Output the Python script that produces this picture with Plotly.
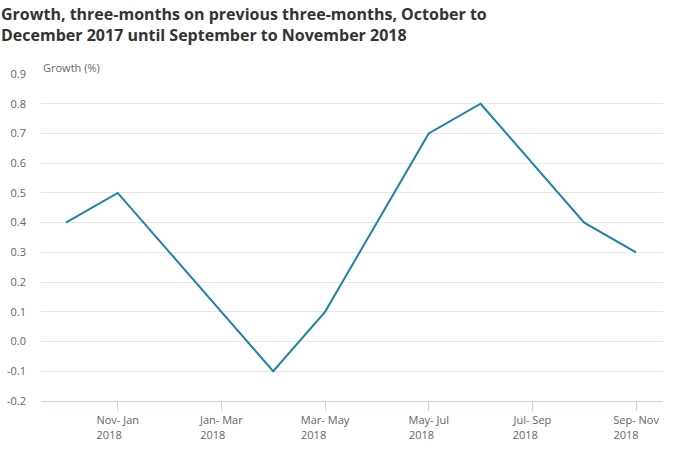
import plotly.graph_objects as go

categories = ["Oct- Dec 2017", "Nov- Jan 2018", "Dec- Feb 2018", "Jan- Mar 2018",
              "Feb- Apr 2018", "Mar- May 2018", "Apr- Jun 2018", "May- Jul 2018",
              "Jun- Aug 2018", "Jul- Sep 2018", "Aug- Oct 2018", "Sep- Nov 2018"]
growth = [0.4, 0.5, 0.3, 0.1, -0.1, 0.1, 0.4, 0.7, 0.8, 0.6, 0.4, 0.3]

tick_cats = ["Nov- Jan 2018", "Jan- Mar 2018", "Mar- May 2018",
             "May- Jul 2018", "Jul- Sep 2018", "Sep- Nov 2018"]
tick_first = ["Nov- Jan", "Jan- Mar", "Mar- May", "May- Jul", "Jul- Sep", "Sep- Nov"]
tick_year = ["2018"] * 6
pad = [6, 6, 8, 5, 5, 7]

y_tickvals = [-0.2, -0.1, 0.0, 0.1, 0.2, 0.3, 0.4, 0.5, 0.6, 0.7, 0.8, 0.9]
y_ticktext = ["-0.2", "-0.1", "0.0", "0.1", "0.2", "0.3", "0.4", "0.5", "0.6", "0.7", "0.8", "0.9"]

NB = "\u00a0"
ticktext = [f"{a}<br>{b}{NB * p}" for a, b, p in zip(tick_first, tick_year, pad)]

fig = go.Figure()
fig.add_trace(go.Scatter(
    x=categories, y=growth, mode="lines",
    line=dict(color="#1f80aa", width=2),
    hoverinfo="skip",
))

fig.update_layout(
    width=674, height=451,
    margin=dict(l=41, r=11, t=74, b=50, autoexpand=False),
    paper_bgcolor="white", plot_bgcolor="white",
    showlegend=False,
    font=dict(family="Open Sans", size=11, color="#666666"),
)

fig.update_xaxes(
    type="category", automargin=False,
    range=[-0.48, 11.52],
    tickmode="array", tickvals=tick_cats, ticktext=ticktext,
    ticks="outside", ticklen=9, tickcolor="#ccd6eb", tickwidth=1,
    showline=True, linecolor="#ccd6eb", linewidth=1,
    showgrid=False, zeroline=False,
    tickfont=dict(family="Open Sans", size=11, color="#666666"),
)
fig.update_yaxes(
    automargin=False,
    range=[-0.2, 0.9],
    tickmode="array", tickvals=y_tickvals, ticktext=y_ticktext,
    showgrid=True, gridcolor="#e6e6e6", gridwidth=1,
    zeroline=False, showline=False, ticks="",
    ticklabelstandoff=14,
    tickfont=dict(family="Open Sans", size=11, color="#666666"),
)

fig.add_annotation(
    xref="paper", yref="paper", x=-41 / 622, y=1 + 74 / 327,
    xanchor="left", yanchor="top", align="left", showarrow=False,
    borderpad=0, yshift=-2,
    text="<b>Growth, three-months on previous three-months, October to<br>"
         "December 2017 until September to November 2018</b>",
    font=dict(family="Open Sans", size=16, color="#333333"),
)
fig.add_annotation(
    xref="paper", yref="paper", x=0, y=1,
    xanchor="left", yanchor="bottom", showarrow=False,
    text="Growth (%)", yshift=-3,
    font=dict(family="Open Sans", size=11, color="#666666"),
)

fig.write_html("out.html", config={"displayModeBar": False},
               post_script="document.body.style.margin='0px';")
